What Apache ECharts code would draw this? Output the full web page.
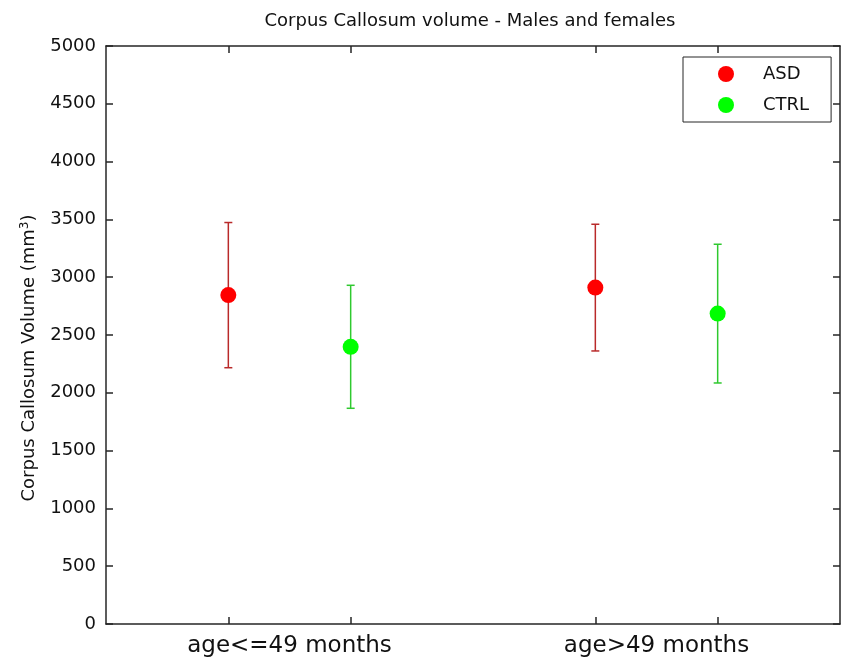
<!DOCTYPE html>
<html>
<head>
<meta charset="utf-8">
<script src="https://cdn.jsdelivr.net/npm/echarts@6/dist/echarts.min.js"></script>
<style>
  html, body { margin: 0; padding: 0; background: #ffffff; }
  #chart { width: 845px; height: 663px; }
</style>
</head>
<body>
<div id="chart"></div>
<script>
// Age groups on the x axis
const groups = ['age<=49 months', 'age>49 months'];
// Series names
const seriesNames = ['ASD', 'CTRL'];
// Mean corpus callosum volume (mm^3) per age group
const asdMean = [2845, 2910];
const ctrlMean = [2398, 2685];
// Standard deviation per age group
const asdSD = [628, 548];
const ctrlSD = [532, 600];

const FONT = '"DejaVu Sans", Verdana, sans-serif';
const AXIS_COLOR = '#262626';

// Each group sits at 1.5 + 3*g, the two series at -0.5 / +0.5 of it
function xOf(g, s) { return 1.5 + 3 * g + (s === 0 ? -0.5 : 0.5); }

function pointData(means, s) {
  return means.map((m, g) => [xOf(g, s), m]);
}
function barData(means, sds, s) {
  return means.map((m, g) => [xOf(g, s), m - sds[g], m + sds[g]]);
}

const tickXs = [];
groups.forEach((_, g) => { tickXs.push(xOf(g, 0), xOf(g, 1)); });
const labelXs = groups.map((_, g) => 1.5 + 3 * g);

function errorBar(color) {
  return function (params, api) {
    const x = api.value(0);
    const lo = api.coord([x, api.value(1)]);
    const hi = api.coord([x, api.value(2)]);
    const cap = 4;
    const style = { stroke: color, lineWidth: 1.5 };
    return {
      type: 'group',
      children: [
        { type: 'line', shape: { x1: lo[0], y1: lo[1], x2: hi[0], y2: hi[1] }, style },
        { type: 'line', shape: { x1: lo[0] - cap, y1: lo[1], x2: lo[0] + cap, y2: lo[1] }, style },
        { type: 'line', shape: { x1: hi[0] - cap, y1: hi[1], x2: hi[0] + cap, y2: hi[1] }, style }
      ]
    };
  };
}

const colors = { ASD: '#ff0000', CTRL: '#00ff00' };
const barColors = { ASD: '#b92a2a', CTRL: '#2fc92f' };

const chart = echarts.init(document.getElementById('chart'), null, { renderer: 'canvas' });

const option = {
  animation: false,
  backgroundColor: '#ffffff',
  textStyle: { fontFamily: FONT },
  title: {
    text: 'Corpus Callosum volume - Males and females',
    left: 470,
    top: 12,
    textAlign: 'center',
    padding: 0,
    textStyle: { fontFamily: FONT, fontSize: 18, fontWeight: 'normal', color: '#111' }
  },
  grid: { left: 106, right: 5, top: 46, bottom: 39, containLabel: false },
  legend: {
    data: seriesNames,
    orient: 'vertical',
    left: 683,
    top: 57,
    padding: [8, 22, 8, 35],
    itemWidth: 16,
    itemHeight: 16,
    itemGap: 13,
    icon: 'circle',
    backgroundColor: '#ffffff',
    borderColor: AXIS_COLOR,
    borderWidth: 1,
    borderRadius: 0,
    textStyle: { fontFamily: FONT, fontSize: 18, color: '#111', lineHeight: 17, padding: [0, 0, 0, 24] }
  },
  xAxis: [
    {
      type: 'value', min: 0, max: 6, position: 'bottom',
      splitLine: { show: false },
      axisLine: { show: true, onZero: false, lineStyle: { color: AXIS_COLOR, width: 1.5 } },
      axisTick: { show: true, inside: true, length: 7, customValues: tickXs, lineStyle: { color: AXIS_COLOR, width: 1.5 } },
      axisLabel: {
        show: true, customValues: labelXs, margin: 11,
        fontFamily: FONT, fontSize: 23, color: '#111',
        formatter: v => groups[Math.round((v - 1.5) / 3)]
      }
    },
    {
      type: 'value', min: 0, max: 6, position: 'top',
      splitLine: { show: false },
      axisLine: { show: true, onZero: false, lineStyle: { color: AXIS_COLOR, width: 1.5 } },
      axisTick: { show: true, inside: true, length: 7, customValues: tickXs, lineStyle: { color: AXIS_COLOR, width: 1.5 } },
      axisLabel: { show: false }
    }
  ],
  yAxis: [
    {
      type: 'value', min: 0, max: 5000, interval: 500, position: 'left',
      splitLine: { show: false },
      axisLine: { show: true, onZero: false, lineStyle: { color: AXIS_COLOR, width: 1.5 } },
      axisTick: { show: true, inside: true, length: 7, lineStyle: { color: AXIS_COLOR, width: 1.5 } },
      axisLabel: { margin: 10, fontFamily: FONT, fontSize: 18, color: '#111', formatter: v => String(v) }
    },
    {
      type: 'value', min: 0, max: 5000, interval: 500, position: 'right',
      splitLine: { show: false },
      axisLine: { show: true, onZero: false, lineStyle: { color: AXIS_COLOR, width: 1.5 } },
      axisTick: { show: true, inside: true, length: 7, lineStyle: { color: AXIS_COLOR, width: 1.5 } },
      axisLabel: { show: false }
    }
  ],
  graphic: [
    {
      type: 'text',
      x: 29,
      y: 358,
      rotation: Math.PI / 2,
      style: {
        text: 'Corpus Callosum Volume (mm{sup|3})',
        font: '18px ' + FONT,
        fill: '#111',
        align: 'center',
        verticalAlign: 'middle',
        rich: { sup: { fontSize: 12, fontFamily: FONT, verticalAlign: 'top', padding: [0, 0, 9, 0], fill: '#111' } }
      }
    }
  ],
  series: [
    {
      name: 'ASD_err', type: 'custom', xAxisIndex: 0, yAxisIndex: 0,
      renderItem: errorBar(barColors.ASD),
      encode: { x: 0, y: [1, 2] },
      data: barData(asdMean, asdSD, 0), z: 1, silent: true
    },
    {
      name: 'CTRL_err', type: 'custom', xAxisIndex: 0, yAxisIndex: 0,
      renderItem: errorBar(barColors.CTRL),
      encode: { x: 0, y: [1, 2] },
      data: barData(ctrlMean, ctrlSD, 1), z: 1, silent: true
    },
    {
      name: 'ASD', type: 'scatter', symbol: 'circle', symbolSize: 16,
      itemStyle: { color: colors.ASD, opacity: 1 },
      data: pointData(asdMean, 0), z: 3
    },
    {
      name: 'CTRL', type: 'scatter', symbol: 'circle', symbolSize: 16,
      itemStyle: { color: colors.CTRL, opacity: 1 },
      data: pointData(ctrlMean, 1), z: 3
    }
  ]
};

chart.setOption(option);
</script>
</body>
</html>
